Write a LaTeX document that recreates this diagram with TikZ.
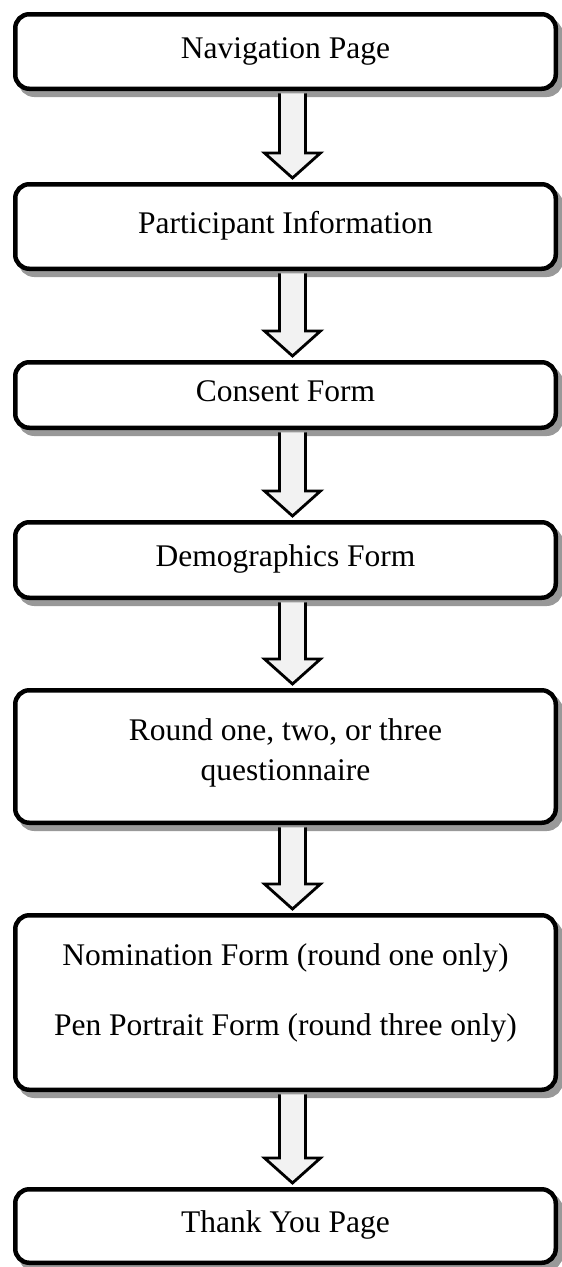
\documentclass[tikz,border=0pt]{standalone}
\usepackage{fontspec}
\setmainfont{Liberation Serif}
\usetikzlibrary{calc, shadows}

\begin{document}
\begin{tikzpicture}[x=1pt, y=-1pt,
    pagebox/.style={draw, line width=4.5pt, rounded corners=14pt, fill=white,
        minimum width=540.5pt, inner sep=0pt, align=center,
        font=\fontsize{31.5}{40}\selectfont, text height=22pt, text depth=9pt,
        drop shadow={shadow xshift=5pt, shadow yshift=-6pt, fill=black!40, draw=black!40, line width=4.5pt, opacity=1}},
    flowarrow/.style={draw, line width=2.8pt, fill=black!5, miter limit=10}]
\useasboundingbox (0,0) rectangle (562,1267);

% Pages
\node[pagebox, minimum height=74.5pt] (nav) at (285.5,51.5) {Navigation Page};
\node[pagebox, minimum height=84.5pt] (info) at (285.5,226.5) {Participant Information};
\node[pagebox, minimum height=65.5pt] (consent) at (285.5,395) {Consent Form};
\node[pagebox, minimum height=75.5pt] (demo) at (285.5,560) {Demographics Form};
\node[pagebox, minimum height=132.5pt, text height=56pt] (round) at (285.5,756.5) {Round one, two, or three\\questionnaire};
\node[pagebox, minimum height=174.5pt, text height=74pt] (nomin) at (285.5,1002.5) {Nomination Form (round one only)\\[30pt]Pen Portrait Form (round three only)};
\node[pagebox, minimum height=73.5pt] (thanks) at (285.5,1226) {Thank You Page};

% Block arrows
\foreach \a/\b in {nav/info, info/consent, consent/demo, demo/round, round/nomin, nomin/thanks} {
    \draw[flowarrow] let \p1=($(\a.south)+(7,2.25)$), \p2=($(\b.north)+(7,-4)$) in
        (\x1-13pt,\y1) -- (\x1-13pt,\y2+25pt) -- (\x1-28pt,\y2+25pt) -- (\x1,\y2)
        -- (\x1+28pt,\y2+25pt) -- (\x1+13pt,\y2+25pt) -- (\x1+13pt,\y1);
}

\end{tikzpicture}
\end{document}
